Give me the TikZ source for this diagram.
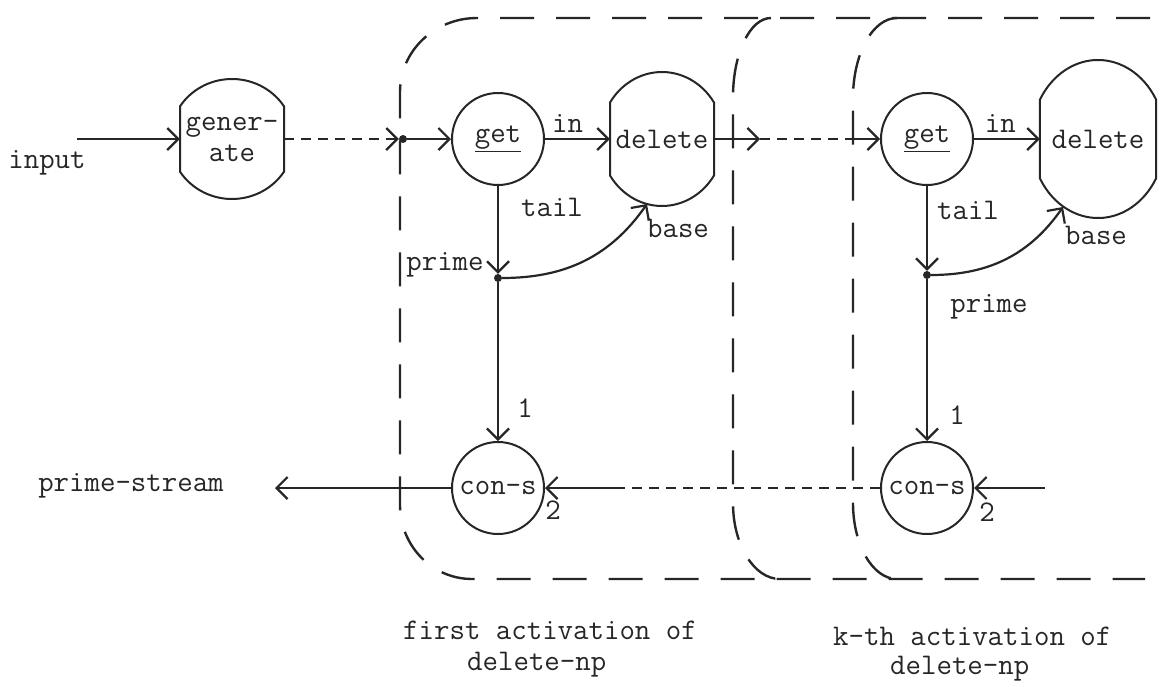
\documentclass[tikz,border=0pt]{standalone}
\usepackage{tikz}
\usetikzlibrary{arrows.meta,calc}

% circle cut flat on its left and right sides
\newcommand{\flatoval}[4]{%
	\draw[outline]
	(#1.center) ++(#4:#2pt and #3pt)
	arc[start angle=#4, end angle={180-#4}, x radius=#2pt, y radius=#3pt]
	-- ++(0,{-2*#3*sin(#4)})
	arc[start angle={180+#4}, end angle={360-#4}, x radius=#2pt, y radius=#3pt]
	-- cycle;%
}

\begin{document}
\begin{tikzpicture}[
			x=1pt, y=1pt,
			color=black!85,
			font=\fontsize{30}{31}\selectfont\ttfamily,
			flow/.style={
				-{Straight Barb[length=11pt,width=22pt]},
				line width=2.2pt
			},
			lead/.style={
				line width=2.2pt,
				dash pattern=on 10pt off 7pt
			},
			boundary/.style={
				line width=2.4pt,
				dash pattern=on 34pt off 22pt
			},
			outline/.style={
				line width=2pt
			},
			proc/.style={
				rectangle,
				inner sep=0pt,
				align=center
			},
			circ/.style={
				circle,
				draw,
				line width=2pt,
				minimum size=92pt,
				inner sep=0pt
			},
			dot/.style={
				circle,
				fill,
				inner sep=0pt,
				minimum size=8pt
			},
			lbl/.style={
				inner sep=0pt
			}
			]
			
			\useasboundingbox (0,0) rectangle (1160,-686);
			
			%=====================================================================
			% Activation boundaries
			%=====================================================================
			
			\draw[boundary]
			(1150,-18) -- (477,-18)
			arc[start angle=90, end angle=180, x radius=77, y radius=74]
			-- (400,-505)
			arc[start angle=180, end angle=270, x radius=72, y radius=74]
			-- (1145,-579);
			
			\draw[boundary]
			(771,-18)
			arc[start angle=90, end angle=180, x radius=38, y radius=79]
			-- (733,-503)
			arc[start angle=180, end angle=270, x radius=47, y radius=76];
			
			\draw[boundary]
			(897,-18)
			arc[start angle=90, end angle=180, x radius=44, y radius=80]
			-- (853,-503)
			arc[start angle=180, end angle=270, x radius=44, y radius=76];
			
			%=====================================================================
			% Input side
			%=====================================================================
			
			\node[lbl] (input) at (47,-163) {input};
			\coordinate (in0) at (77,-139);
			
			\node[proc, minimum width=104pt, minimum height=120pt] (gen)
			at (232,-139) {gener-\\ate};
			\flatoval{gen}{62}{60}{33}
			
			\draw[flow] (in0) -- (gen.west);
			
			%=====================================================================
			% First activation
			%=====================================================================
			
			\node[dot] (j1) at (403,-139) {};
			\node[circ] (get1) at (498,-139) {\underline{get}};
			
			\node[proc, minimum width=104pt, minimum height=134pt] (del1)
			at (662,-139) {delete};
			\flatoval{del1}{62}{67}{33}
			
			\node[dot] (p1) at (498,-278) {};
			\node[circ] (cons1) at (498,-488) {con-s};
			\coordinate (b1) at ($(del1.center)+(-15,-65)$);
			
			\draw[flow, lead] (gen.east) -- (j1);
			\draw[flow] (j1) -- (get1);
			\draw[flow] (get1)
			-- node[lbl, above=5pt, pos=0.35] (in1) {in}
			(del1.west);
			\draw[flow] (get1) -- (p1);
			\draw[flow] (p1) -- (cons1);
			\draw[flow] (p1) to[out=0, in=235] (b1);
			
			\node[lbl] (tail1) at (552,-207) {tail};
			\node[lbl] (prime1) at (445,-265) {prime};
			\node[lbl] (base1) at (678,-228) {base};
			\node[lbl] (one1) at (525,-408) {1};
			\node[lbl] (two1) at (553,-510) {2};
			
			\node[lbl] (stream) at (131,-486) {prime-stream};
			\coordinate (out0) at (275,-488);
			\draw[flow] (cons1) -- (out0);
			
			%=====================================================================
			% k-th activation
			%=====================================================================
			
			\coordinate (d1) at (760,-139);
			\coordinate (j2) at (853,-139);
			\node[circ] (get2) at (927,-139) {\underline{get}};
			
			\node[proc, minimum width=116pt, minimum height=158pt] (del2)
			at (1098,-139) {delete};
			\flatoval{del2}{67}{79}{30}
			
			\node[dot] (p2) at (927,-275) {};
			\node[circ] (cons2) at (927,-488) {con-s};
			\coordinate (b2) at ($(del2.center)+(-35,-68)$);
			\coordinate (in2) at (1045,-488);
			\coordinate (c1) at (625,-488);
			
			\draw[flow] (del1.east) -- (d1);
			\draw[lead] (d1) -- (j2);
			\draw[flow] (j2) -- (get2);
			\draw[flow] (get2)
			-- node[lbl, above=5pt, pos=0.4] (in2lbl) {in}
			(del2.west);
			\draw[flow] (get2) -- (p2);
			\draw[flow] (p2) -- (cons2);
			\draw[flow] (p2) to[out=0, in=235] (b2);
			
			\draw[flow] (in2) -- (cons2);
			\draw[lead] (cons2) -- (c1);
			\draw[flow] (c1) -- (cons1);
			
			\node[lbl] (tail2) at (968,-210) {tail};
			\node[lbl] (prime2) at (989,-307) {prime};
			\node[lbl] (base2) at (1096,-235) {base};
			\node[lbl] (one2) at (957,-415) {1};
			\node[lbl] (two2) at (987,-512) {2};
			
			%=====================================================================
			% Captions
			%=====================================================================
			
			\node[lbl, align=left, anchor=north west] (act1) at (403,-621)
			{first activation of\\\hspace*{64pt}delete-np};
			
			\node[lbl, align=left, anchor=north west] (actk) at (833,-627)
			{k-th activation of\\[-2pt]\hspace*{57pt}delete-np};
			
		\end{tikzpicture}
\end{document}
